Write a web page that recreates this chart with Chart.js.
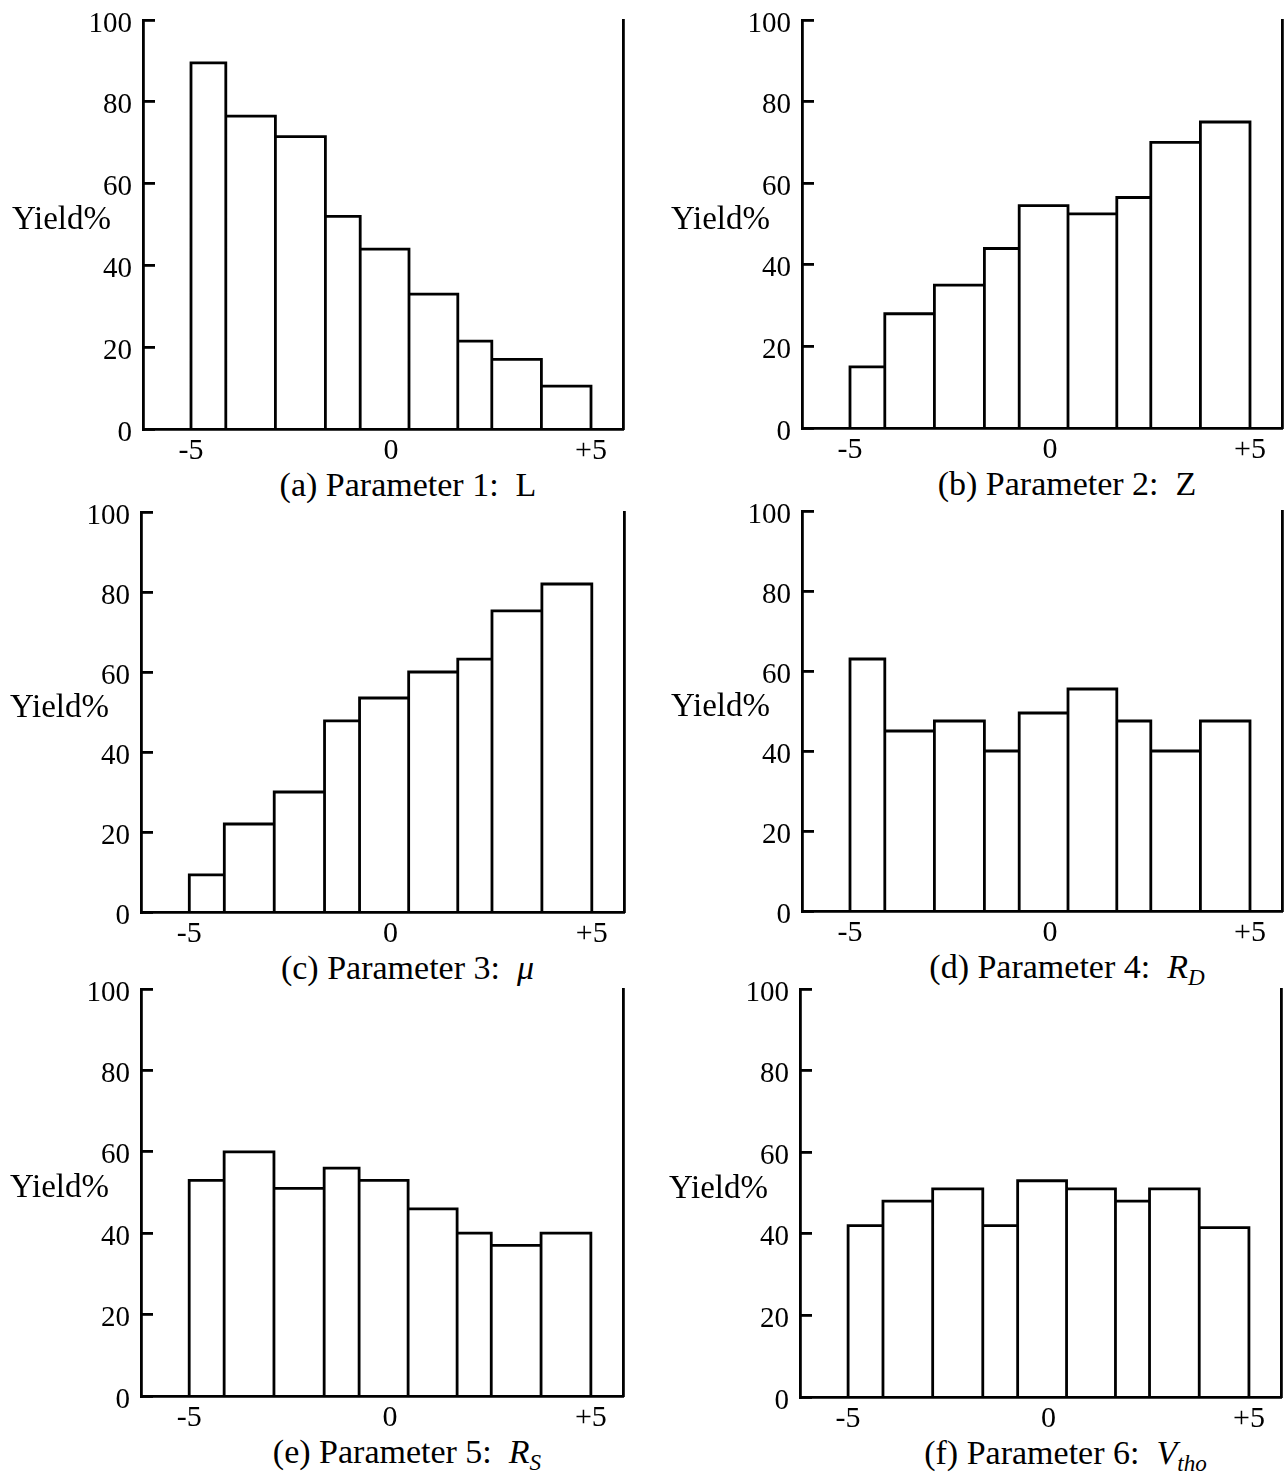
<!DOCTYPE html>
<html>
<head>
<meta charset="utf-8">
<script src="https://cdn.jsdelivr.net/npm/chart.js@4.4.1/dist/chart.umd.min.js"></script>
<style>
  body { margin: 0; background: #fff; }
  #page { position: relative; width: 1285px; height: 1474px; overflow: hidden; background: #fff; }
  canvas { position: absolute; }
  .caption { position: absolute; font: 34px "Liberation Serif", serif; color: #000; white-space: nowrap; line-height: 1; transform: translate(-50%, -50%); }
  .caption sub { font-size: 0.68em; vertical-align: -0.3em; line-height: 0; }
</style>
</head>
<body>
<div id="page"></div>
<script>
// Bin edges shared by the six histograms
const binEdges = [-5, -4.13, -2.89, -1.64, -0.77, 0.45, 1.67, 2.52, 3.76, 5];

// Yield (%) per bin
const yieldL   = [89.5, 76.5, 71.5, 52, 44, 33, 21.5, 17, 10.5];
const yieldZ   = [15, 28, 35, 44, 54.5, 52.5, 56.5, 70, 75];
const yieldMu  = [9.3, 22, 30, 47.8, 53.5, 60, 63.2, 75.3, 82];
const yieldRD  = [63, 45, 47.5, 40, 49.5, 55.5, 47.5, 40, 47.5];
const yieldRS  = [53, 60, 51, 56, 53, 46, 40, 37, 40];
const yieldVth = [42, 48, 51, 42, 53, 51, 48, 51, 41.5];

const xTicks = [-5, 0, 5];
const xTickLabels = ["-5", "0", "+5"];

const captions = [
  "(a) Parameter 1:&nbsp; L",
  "(b) Parameter 2:&nbsp; Z",
  "(c) Parameter 3:&nbsp; <i>&mu;</i>",
  "(d) Parameter 4:&nbsp; <i>R</i><sub><i>D</i></sub>",
  "(e) Parameter 5:&nbsp; <i>R</i><sub><i>S</i></sub>",
  "(f) Parameter 6:&nbsp; <i>V</i><sub><i>tho</i></sub>"
];

const FONT = '"Liberation Serif", serif';

// plot area of each panel in page pixels
const panels = [
  { data: yieldL,   left: 143, right: 623,  top: 20,  bottom: 429 },
  { data: yieldZ,   left: 802, right: 1282, top: 20,  bottom: 428 },
  { data: yieldMu,  left: 141, right: 624,  top: 512, bottom: 912 },
  { data: yieldRD,  left: 802, right: 1282, top: 511, bottom: 911 },
  { data: yieldRS,  left: 141, right: 623,  top: 989, bottom: 1396 },
  { data: yieldVth, left: 800, right: 1281, top: 989, bottom: 1397 }
];

// one closed outline per bar, chained along the baseline
function outline(values) {
  const pts = [{ x: binEdges[0], y: 0 }];
  values.forEach((v, i) => {
    pts.push({ x: binEdges[i], y: v }, { x: binEdges[i + 1], y: v }, { x: binEdges[i + 1], y: 0 });
  });
  return pts;
}

const yieldLabel = {
  id: "yieldLabel",
  afterDraw(chart) {
    const ctx = chart.ctx;
    ctx.save();
    ctx.font = "33px " + FONT;
    ctx.fillStyle = "#000";
    ctx.textAlign = "right";
    ctx.textBaseline = "middle";
    ctx.fillText("Yield%", chart.chartArea.left - 32, chart.scales.y.getPixelForValue(51));
    ctx.restore();
  }
};

const page = document.getElementById("page");
const X_H = 34;

panels.forEach((p, i) => {
  const colLeft = p.left < 640 ? 0 : 640;
  const colWidth = p.left < 640 ? 640 : 645;
  const top = p.top - 20;
  const height = p.bottom + X_H - top;

  const canvas = document.createElement("canvas");
  canvas.width = colWidth;
  canvas.height = height;
  canvas.style.left = colLeft + "px";
  canvas.style.top = top + "px";
  page.appendChild(canvas);

  new Chart(canvas.getContext("2d"), {
    type: "line",
    data: {
      datasets: [{
        data: outline(p.data),
        borderColor: "#000",
        borderWidth: 2.8,
        borderJoinStyle: "miter",
        pointRadius: 0,
        fill: false,
        tension: 0
      }]
    },
    options: {
      responsive: false,
      animation: false,
      layout: { padding: { top: 20, left: 0, bottom: 0, right: colLeft + colWidth - p.right } },
      plugins: { legend: { display: false }, tooltip: { enabled: false } },
      scales: {
        x: {
          type: "linear",
          min: -6.2,
          max: 5.8,
          afterBuildTicks: (s) => { s.ticks = xTicks.map((v) => ({ value: v })); },
          afterFit: (s) => { s.height = X_H; s.paddingLeft = 0; s.paddingRight = 0; },
          grid: { display: false, drawTicks: false },
          border: { display: true, color: "#000", width: 2.8 },
          ticks: {
            autoSkip: false,
            maxRotation: 0,
            padding: 4,
            color: "#000",
            font: { family: FONT, size: 30 },
            callback: (v) => xTickLabels[xTicks.indexOf(v)]
          }
        },
        y: {
          min: 0,
          max: 100,
          afterFit: (s) => { s.width = p.left - colLeft; s.paddingTop = 0; s.paddingBottom = 0; },
          grid: { drawOnChartArea: false, tickLength: -12, color: "#000", lineWidth: 2.8 },
          border: { display: true, color: "#000", width: 2.8 },
          ticks: {
            stepSize: 20,
            padding: 23,
            labelOffset: 4,
            color: "#000",
            font: { family: FONT, size: 29 }
          }
        },
        y2: {
          position: "right",
          min: 0,
          max: 100,
          afterFit: (s) => { s.width = 0; s.paddingTop = 0; s.paddingBottom = 0; },
          grid: { display: false, drawTicks: false },
          border: { display: true, color: "#000", width: 2.8 },
          ticks: { display: false }
        }
      }
    },
    plugins: [yieldLabel]
  });

  const cap = document.createElement("div");
  cap.className = "caption";
  cap.innerHTML = captions[i];
  cap.style.left = ((p.left + p.right) / 2 + 25) + "px";
  cap.style.top = (p.bottom + 56) + "px";
  page.appendChild(cap);
});
</script>
</body>
</html>
